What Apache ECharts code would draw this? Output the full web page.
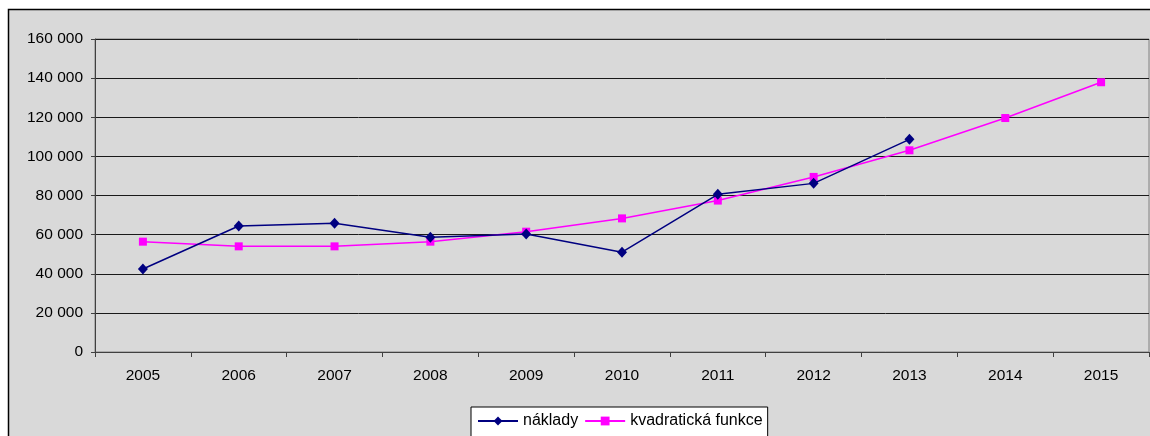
<!DOCTYPE html>
<html>
<head>
<meta charset="utf-8">
<script src="https://cdn.jsdelivr.net/npm/echarts@6/dist/echarts.min.js"></script>
<style>
  html, body { margin: 0; padding: 0; background: #fff; }
  #chart { width: 1150px; height: 436px; }
</style>
</head>
<body>
<div id="chart"></div>
<script>
var years = ['2005', '2006', '2007', '2008', '2009', '2010', '2011', '2012', '2013', '2014', '2015'];
var naklady = [42400, 64400, 65800, 58600, 60300, 51000, 80600, 86200, 108700, null, null];
var kvadraticka = [56400, 54000, 54000, 56400, 61500, 68300, 77400, 89500, 103100, 119600, 137900];
var yTicks = [0, 20000, 40000, 60000, 80000, 100000, 120000, 140000, 160000];

function fmt(v) {
    return String(v).replace(/\B(?=(\d{3})+(?!\d))/g, ' ');
}

var font = 'Liberation Sans, Arial, sans-serif';
var myChart = echarts.init(document.getElementById('chart'));
var option = {
    backgroundColor: '#fff',
    textStyle: { fontFamily: font },
    animation: false,
    graphic: [
        {
            type: 'rect',
            z: -10,
            shape: { x: 8.5, y: 9.5, width: 1160, height: 440 },
            style: { fill: '#d9d9d9', stroke: '#000', lineWidth: 1.5 }
        }
    ],
    grid: {
        left: 95,
        top: 39,
        width: 1054,
        height: 313,
        show: true,
        borderColor: '#808080',
        borderWidth: 1,
        backgroundColor: 'transparent'
    },
    legend: {
        left: 471,
        top: 407,
        padding: [6, 5, 10, 6],
        backgroundColor: '#fff',
        borderColor: '#000',
        borderWidth: 1,
        borderRadius: 0,
        itemWidth: 40,
        itemHeight: 11,
        itemGap: 6,
        textStyle: { fontSize: 16, color: '#000', fontFamily: font },
        data: ['náklady', 'kvadratická funkce']
    },
    xAxis: {
        type: 'category',
        data: years,
        boundaryGap: true,
        axisLine: { lineStyle: { color: '#404040', width: 1 } },
        axisTick: { show: true, length: 5, lineStyle: { color: '#404040' } },
        axisLabel: { color: '#000', fontSize: 15.5, margin: 16 },
        splitLine: { show: false }
    },
    yAxis: {
        type: 'value',
        min: 0,
        max: 160000,
        interval: 20000,
        axisLine: { show: true, lineStyle: { color: '#404040', width: 1 } },
        axisTick: { show: true, length: 4, lineStyle: { color: '#404040' } },
        axisLabel: {
            color: '#000',
            fontSize: 15.5,
            margin: 12,
            formatter: function (v) { return yTicks.indexOf(v) >= 0 ? fmt(v) : ''; }
        },
        splitLine: { show: true, lineStyle: { color: '#1a1a1a', width: 1 } }
    },
    series: [
        {
            name: 'náklady',
            type: 'line',
            data: naklady,
            symbol: 'diamond',
            symbolSize: [10, 11],
            lineStyle: { color: '#000080', width: 1.5 },
            itemStyle: { color: '#000080' },
            z: 3
        },
        {
            name: 'kvadratická funkce',
            type: 'line',
            data: kvadraticka,
            symbol: 'rect',
            symbolSize: 8,
            lineStyle: { color: '#ff00ff', width: 1.5 },
            itemStyle: { color: '#ff00ff' },
            z: 2
        }
    ]
};
myChart.setOption(option);
</script>
</body>
</html>
